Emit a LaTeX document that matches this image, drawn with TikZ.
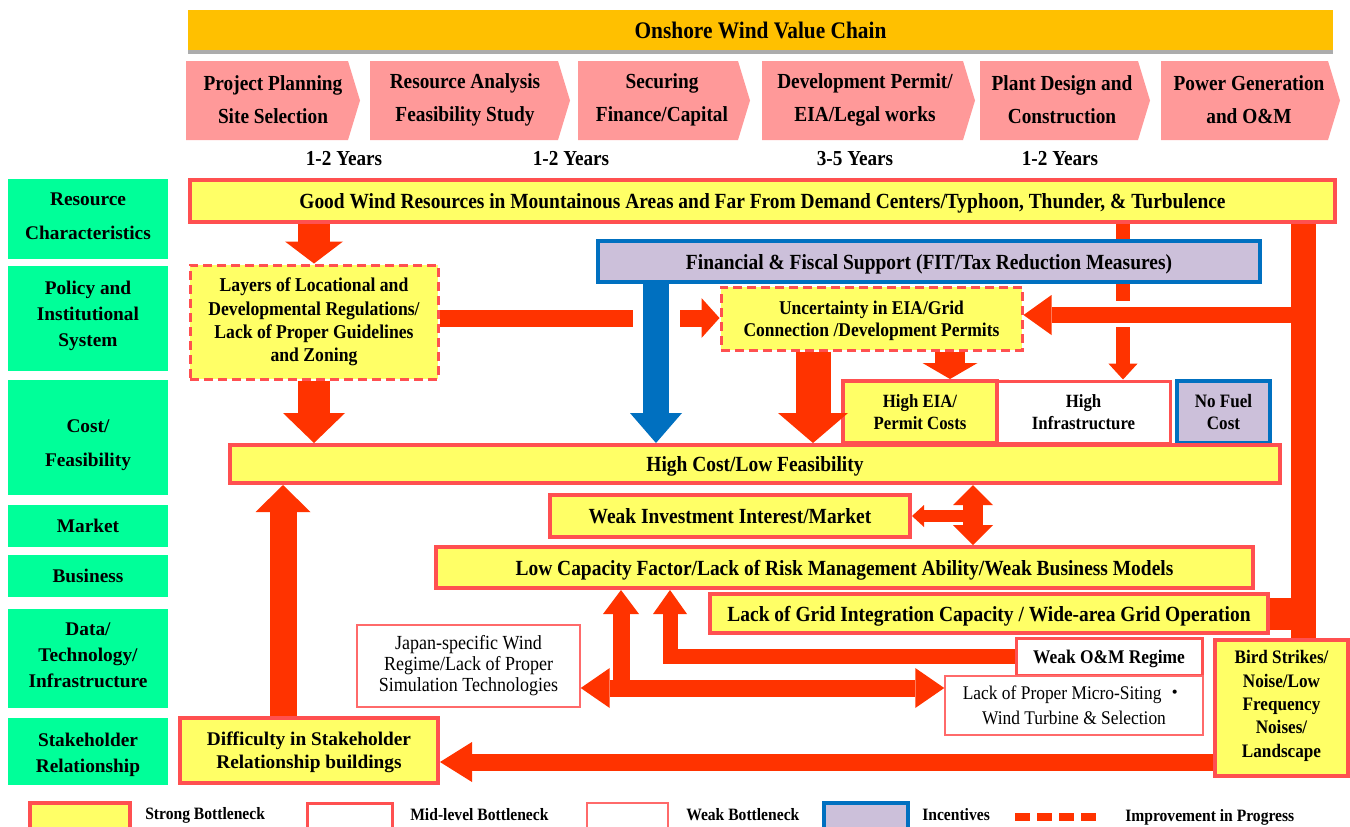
\documentclass[tikz,border=0pt]{standalone}
\usepackage{fontspec}
\setmainfont{Liberation Serif}
\newfontfamily\cond[FakeStretch=0.9]{Liberation Serif}
\newfontfamily\cjkfont{Noto Sans CJK JP}
\usetikzlibrary{arrows.meta}
\definecolor{ttl}{HTML}{FFC000}
\definecolor{chev}{HTML}{FF9999}
\definecolor{grn}{HTML}{00FF99}
\definecolor{ylw}{HTML}{FFFF66}
\definecolor{bred}{HTML}{FF5050}
\definecolor{ared}{HTML}{FF3300}
\definecolor{blu}{HTML}{0070C0}
\definecolor{lav}{HTML}{CCC0DA}
\newcommand\tf[2]{\fontsize{#1}{#2}\selectfont}
\newcommand\bx[7]{\node[#6,minimum width={(#4-#2)*0.75pt},minimum height={(#5-#3)*0.75pt}] (#1) at ({(#2+#4)/2},{(#3+#5)/2}) {#7};}
\newcommand\chevron[4]{\fill[chev] (#1,61) -- ({#2-12},61) -- (#2,100.5) -- ({#2-12},140) -- (#1,140) -- cycle;
  \node[chevt] (#3) at (#4,99.5)}
\begin{document}
\begin{tikzpicture}[x=0.75pt,y=-0.75pt,
  box/.style={inner sep=0pt, align=center, text=black},
  td/.style={text depth=0pt},
  strong/.style={box, fill=ylw, draw=bred, line width=3pt},
  mid/.style={box, fill=white, draw=bred, line width=2.25pt},
  weak/.style={box, fill=white, draw=bred!85, line width=1.1pt},
  incent/.style={box, fill=lav, draw=blu, line width=3pt},
  dashbox/.style={box, fill=ylw, draw=bred, line width=2.25pt, dash pattern=on 7pt off 3.5pt},
  lbl/.style={box, fill=grn, font=\bfseries\tf{14.5}{19.5}},
  mainf/.style={td, font=\cond\bfseries\tf{16.2}{20}},
  chevt/.style={align=center, inner sep=0pt, font=\cond\bfseries\tf{16.1}{24.75}},
  yrs/.style={inner sep=0pt, font=\cond\bfseries\tf{16}{18}},
  legt/.style={anchor=west, inner sep=0pt, font=\cond\bfseries\tf{13}{15}},
  redbar/.style={draw=ared, line width=#1},
  bluebar/.style={draw=blu, line width=#1},
  ah/.style 2 args={-{Triangle[width=#1,length=#2,line width=0pt]}},
  ahh/.style 2 args={{Triangle[width=#1,length=#2,line width=0pt]}-{Triangle[width=#1,length=#2,line width=0pt]}}
]
\useasboundingbox (0,0) rectangle (1350,826);
\clip (0,0) rectangle (1350,826);
\fill[white] (0,0) rectangle (1350,826);

% reference coordinates
\coordinate (x283) at (283,0);
\coordinate (x314) at (314,0);
\coordinate (x621) at (621,0);
\coordinate (x633) at (633,0);
\coordinate (x656) at (656,0);
\coordinate (x670) at (670,0);
\coordinate (x680) at (680,0);
\coordinate (x813) at (813,0);
\coordinate (x950) at (950,0);
\coordinate (x973) at (973,0);
\coordinate (x1123) at (1123,0);
\coordinate (x1303) at (1303,0);
\coordinate (y301) at (0,301);
\coordinate (y315) at (0,315);
\coordinate (y318) at (0,318);
\coordinate (y327) at (0,327);
\coordinate (y516) at (0,516);
\coordinate (y688) at (0,688);
\coordinate (y762) at (0,762);

% title
\fill[gray!65] (188,49) rectangle (1333,54);
\bx{title}{188}{10}{1333}{50}{box, td, fill=ttl, font=\cond\bfseries\tf{17.8}{20}}{Onshore Wind Value Chain}

% chevrons
\chevron{186}{360}{c1}{273} {Project Planning\\Site Selection};
\chevron{370}{570}{c2}{465} {Resource Analysis\\Feasibility Study};
\chevron{578}{750}{c3}{662} {Securing\\Finance/Capital};
\chevron{762}{975}{c4}{865} {Development Permit/\\EIA/Legal works};
\chevron{980}{1150}{c5}{1062} {Plant Design and\\Construction};
\chevron{1161}{1340}{c6}{1249} {Power Generation\\and O\&M};

\node[yrs] (yr1) at (344,159) {1-2 Years};
\node[yrs] (yr2) at (571,159) {1-2 Years};
\node[yrs] (yr3) at (855,159) {3-5 Years};
\node[yrs] (yr4) at (1060,159) {1-2 Years};

% left labels
\bx{l1}{8}{179}{168}{259}{lbl, font=\bfseries\tf{14.5}{25.5}}{Resource\\Characteristics\rule[-5pt]{0pt}{0pt}}
\bx{l2}{8}{266}{168}{371}{lbl}{Policy and\\Institutional\\System\rule[-7.5pt]{0pt}{0pt}}
\bx{l3}{8}{380}{168}{495}{lbl, font=\bfseries\tf{14.5}{25.5}}{\rule{0pt}{20.5pt}Cost/\\Feasibility}
\bx{l4}{8}{505}{168}{547}{lbl}{Market}
\bx{l5}{8}{555}{168}{597}{lbl}{Business}
\bx{l6}{8}{609}{168}{708}{lbl}{Data/\\Technology/\\Infrastructure\rule[-5pt]{0pt}{0pt}}
\bx{l7}{8}{718}{168}{785}{lbl}{\rule{0pt}{14.5pt}Stakeholder\\Relationship}

% boxes
\bx{res}{190}{180}{1335}{222}{strong, mainf}{Good Wind Resources in Mountainous Areas and Far From Demand Centers/Typhoon, Thunder, \& Turbulence}
\bx{fin}{598}{241}{1260}{282}{incent, mainf}{Financial \& Fiscal Support (FIT/Tax Reduction Measures)}
\bx{lay}{190}{265}{438}{379}{dashbox, font=\cond\bfseries\tf{14.7}{17.5}}{Layers of Locational and\\Developmental Regulations/\\Lack of Proper Guidelines\\and Zoning}
\bx{unc}{721}{287}{1022}{350}{dashbox, td, font=\cond\bfseries\tf{14.6}{16.5}}{Uncertainty in EIA/Grid\\Connection /Development Permits}
\bx{eia}{843}{381}{997}{443}{strong, td, font=\cond\bfseries\tf{14}{16.5}}{High EIA/\\Permit Costs}
\bx{inf}{997}{381}{1170}{443}{mid, td, font=\cond\bfseries\tf{14}{16.5}}{High\\Infrastructure}
\bx{nof}{1177}{381}{1270}{443}{incent, td, font=\cond\bfseries\tf{14.2}{16.5}}{No Fuel\\Cost}
\bx{hc}{230}{445}{1280}{483}{strong, mainf}{High Cost/Low Feasibility}
\bx{wii}{550}{495}{910}{537}{strong, mainf}{Weak Investment Interest/Market}
\bx{lcf}{436}{547}{1253}{588}{strong, mainf}{Low Capacity Factor/Lack of Risk Management Ability/Weak Business Models}
\bx{grid}{710}{594}{1268}{633}{strong, mainf}{Lack of Grid Integration Capacity / Wide-area Grid Operation}
\bx{om}{1016}{638}{1202}{675}{mid, td, font=\cond\bfseries\tf{14.5}{16.5}}{Weak O\&M Regime}
\bx{jap}{357}{625}{580}{707}{weak, font=\cond\tf{15}{15.75}}{Japan-specific Wind\\Regime/Lack of Proper\\Simulation Technologies}
\bx{mic}{945}{676}{1203}{735}{weak, font=\cond\tf{14.5}{18.75}}{Lack of Proper Micro-Siting {\cjkfont ・}\\Wind Turbine \& Selection}
\bx{bird}{1215}{640}{1348}{776}{strong, font=\cond\bfseries\tf{14.3}{17.5}}{Bird Strikes/\\Noise/Low\\Frequency\\Noises/\\Landscape\rule[-6pt]{0pt}{0pt}}
\bx{dif}{180}{718}{438}{783}{strong, td, font=\bfseries\tf{14.5}{17.25}}{Difficulty in Stakeholder\\Relationship buildings}

% connectors
\draw[redbar=24pt, ah={43.5pt}{16.5pt}] (res.south -| x314) -- (lay.north -| x314);
\draw[redbar=24pt, ah={46.5pt}{22.5pt}] (lay.south -| x314) -- (hc.north -| x314);
\draw[bluebar=19.5pt, -{Triangle[width=39pt,length=22.5pt,line width=0pt]}] (fin.south -| x656) -- (hc.north -| x656);
\draw[redbar=26.25pt, ah={52.5pt}{22.5pt}] (unc.south -| x813) -- (hc.north -| x813);
\draw[redbar=22.5pt, ah={41.25pt}{12pt}] (unc.south -| x950) -- (eia.north -| x950);
\draw[redbar=12.75pt] (y318 -| lay.east) -- (y318 -| x633);
\draw[redbar=12.75pt, ah={30pt}{13.5pt}] (y318 -| x680) -- (y318 -| unc.west);
% thin arrow from resources to infrastructure (crossed by bars)
\draw[redbar=10pt] (res.south -| x1123) -- (fin.north -| x1123);
\draw[redbar=10pt] (fin.south -| x1123) -- (y301 -| x1123);
\draw[redbar=10pt, ah={22pt}{12pt}] (y327 -| x1123) -- (inf.north -| x1123);
% right trunk
\draw[redbar=18.75pt] (res.south -| x1303) -- (bird.north -| x1303);
\draw[redbar=12pt, ah={30pt}{21pt}] (y315 -| x1303) -- (y315 -| unc.east);
\draw[redbar=24pt] (grid.east) -- (grid.east -| x1303);
% market / business
\draw[redbar=15pt, ahh={30pt}{15pt}] (hc.south -| x973) -- (lcf.north -| x973);
\draw[redbar=9pt, ah={16.5pt}{9pt}] (y516 -| x973) -- (y516 -| wii.east);
% data/technology
\draw[redbar=12.75pt, ahh={30pt}{21.75pt}] (y688 -| jap.east) -- (y688 -| mic.west);
\draw[redbar=12.75pt, ah={27pt}{18pt}] (y688 -| x621) -- (lcf.south -| x621);
\draw[redbar=11.25pt, line join=miter, ah={25.5pt}{18pt}] (om.west) -- (om.west -| x670) -- (lcf.south -| x670);
% stakeholder
\draw[redbar=20.25pt, ah={41.25pt}{20.25pt}] (dif.north -| x283) -- (hc.south -| x283);
\draw[redbar=12.75pt, ah={30pt}{24pt}] (y762 -| bird.west) -- (y762 -| dif.east);

% legend
\bx{lg1}{30}{803}{130}{832}{strong}{}
\node[legt] (lt1) at (145,815) {Strong Bottleneck};
\bx{lg2}{307}{803}{392}{832}{mid}{}
\node[legt] (lt2) at (410,815) {Mid-level Bottleneck};
\bx{lg3}{587}{803}{668}{832}{weak}{}
\node[legt] (lt3) at (686,815) {Weak Bottleneck};
\bx{lg4}{824}{803}{908}{832}{incent}{}
\node[legt] (lt4) at (922,815) {Incentives};
\coordinate (ld1) at (1015,817);
\coordinate (ld2) at (1097,817);
\draw[ared, line width=6pt, dash pattern=on 11.25pt off 5.25pt] (ld1) -- (ld2);
\node[legt] (lt5) at (1125,817) {Improvement in Progress};
\end{tikzpicture}
\end{document}
